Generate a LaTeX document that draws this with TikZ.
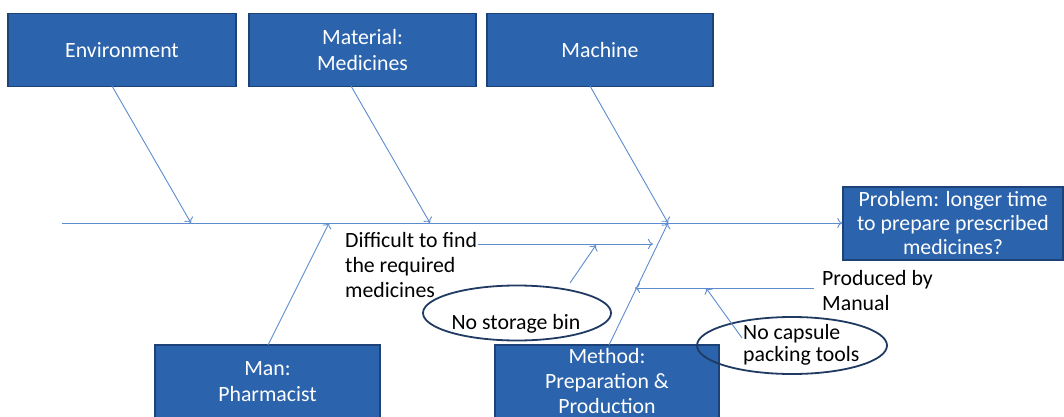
\documentclass[tikz,border=0pt]{standalone}
\usepackage{fontspec}
\setmainfont{Carlito}
\usetikzlibrary{arrows.meta,shapes.geometric}
\definecolor{boxfill}{RGB}{43,99,172}
\definecolor{boxedge}{RGB}{28,66,120}
\definecolor{bonecol}{RGB}{92,140,206}
\definecolor{ringcol}{RGB}{32,58,98}
\begin{document}
\begin{tikzpicture}[x=1pt,y=-1pt,
  cause/.style={draw=boxedge, line width=1.5pt, fill=boxfill, text=white,
    align=center, inner sep=0pt, font=\fontsize{21.8}{26}\selectfont},
  bone/.style={draw=bonecol, line width=0.9pt, -{To[length=5pt,width=10pt]}},
  note/.style={align=left, inner sep=0pt, font=\fontsize{21.8}{25}\selectfont},
  ring/.style={draw=ringcol, line width=1.8pt, ellipse, inner sep=0pt}]
\useasboundingbox (0,0) rectangle (1064,417);

% category boxes
\node[cause, minimum width=228pt, minimum height=73pt] (env)  at (122,50)  {Environment};
\node[cause, minimum width=227pt, minimum height=73pt] (mat)  at (362.5,50) {Material:\\Medicines};
\node[cause, minimum width=226pt, minimum height=73pt] (mach) at (600,50)  {Machine};
\node[cause, minimum width=225pt, minimum height=73pt] (man)  at (267.5,381.5) {Man:\\Pharmacist};
\node[cause, minimum width=224pt, minimum height=73pt,
      font=\fontsize{21.8}{25}\selectfont] (meth) at (607,381.5) {Method:\\Preparation \&\\Production};
\node[cause, minimum width=220pt, minimum height=73pt,
      font=\fontsize{21.8}{24}\selectfont] (prob) at (953,223.5) {Problem: longer time\\to prepare prescribed\\medicines?};

% spine and main bones
\coordinate (tail) at (62,223);
\coordinate (envTip)  at (191,223);
\coordinate (matTip)  at (430,223);
\coordinate (machTip) at (668,223);
\coordinate (manTip)  at (329,223);
\coordinate (envFoot)  at (112,86);
\coordinate (matFoot)  at (351,86);
\coordinate (machFoot) at (590,86);
\coordinate (manFoot)  at (268,345);
\coordinate (methFoot) at (609,345);

\draw[bone] (tail) -- (tail -| prob.west);
\draw[bone] (envFoot) -- (envTip);
\draw[bone] (matFoot) -- (matTip);
\draw[bone] (machFoot) -- (machTip);
\draw[bone] (manFoot) -- (manTip);
\draw[bone] (methFoot) -- (machTip);

% sub-causes
\node[note, anchor=north west] (find) at (345,232) {Difficult to find\\the required\\medicines};
\coordinate (findTail) at (478,244);
\coordinate (findTip)  at (653,244);
\draw[bone] (findTail) -- (findTip);

\node[ring, minimum width=188pt, minimum height=55pt] (bin) at (517,313) {};
\node[note] (binText) at (516,324) {No storage bin};
\coordinate (binFrom) at (570,283);
\coordinate (binTip)  at (596,245);
\draw[bone] (binFrom) -- (binTip);

\node[note, anchor=north west] (manual) at (822,270) {Produced by\\Manual};
\coordinate (manualTail) at (814,288);
\coordinate (manualTip)  at (635,288);
\draw[bone] (manualTail) -- (manualTip);

\node[ring, minimum width=190pt, minimum height=57pt] (caps) at (792,345.5) {};
\node[note, anchor=north west, font=\fontsize{21.8}{22}\selectfont] (capsText) at (743,324) {No capsule\\packing tools};
\coordinate (capsFrom) at (742,338);
\coordinate (capsTip)  at (706,288);
\draw[bone] (capsFrom) -- (capsTip);
\end{tikzpicture}
\end{document}
